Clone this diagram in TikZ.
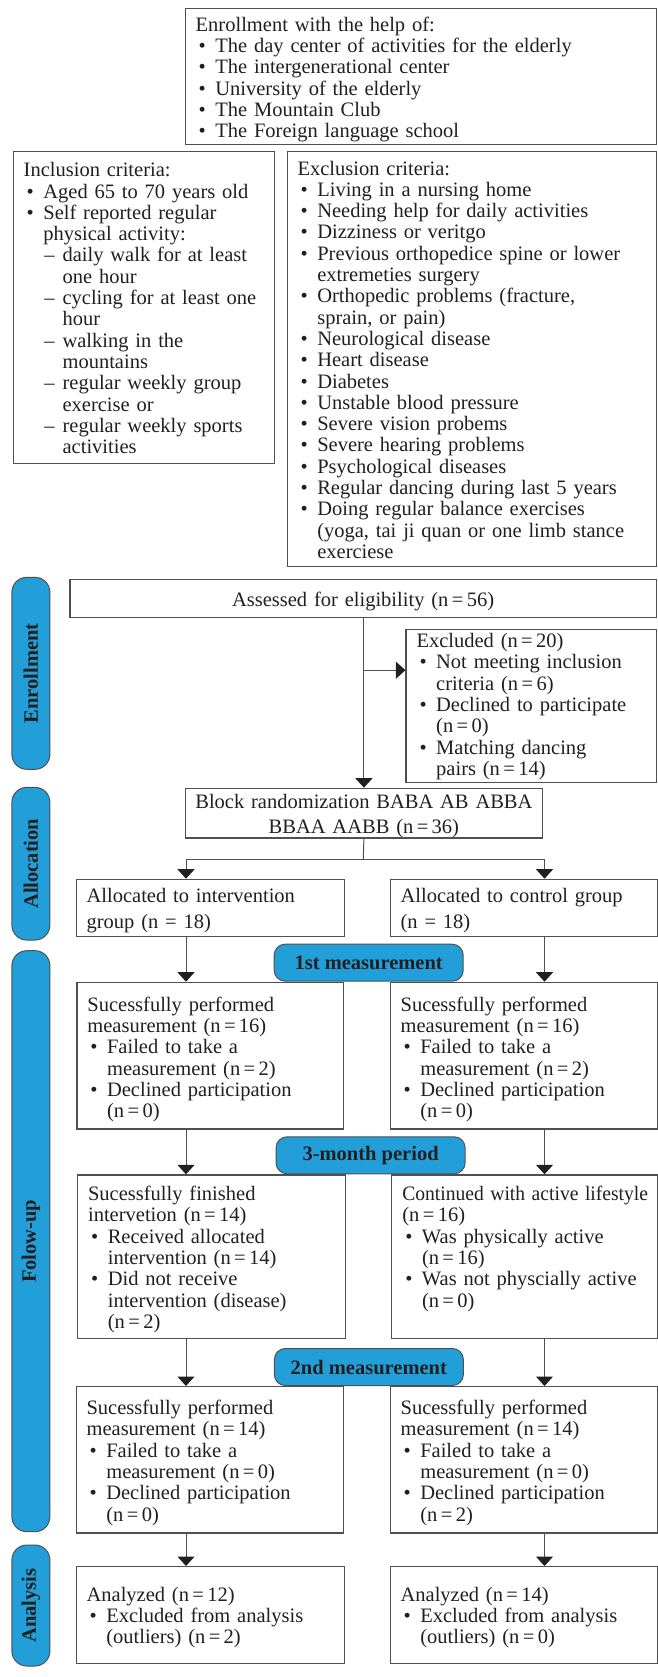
\documentclass[tikz,border=0pt]{standalone}
\usepackage{fontspec}
\setmainfont{Liberation Serif}
\usepackage{graphicx}
\usepackage{xcolor}
\usepackage{tikz}
\usetikzlibrary{arrows.meta, positioning, calc}

\definecolor{phaseblue}{RGB}{34,159,217}
\definecolor{boxline}{RGB}{80,80,80}
\definecolor{ink}{RGB}{35,31,32}

\newcommand{\bul}{\makebox[19.7pt][l]{\hspace{3pt}•}}
\newcommand{\ind}{\hspace*{19.7pt}}
\newcommand{\dsh}{\hspace*{19.7pt}\makebox[19.2pt][l]{\hspace{1pt}–}}
\newcommand{\dind}{\hspace*{38.9pt}}

\tikzset{
  box/.style={rectangle, draw=boxline, line width=1.2pt, fill=white,
              anchor=north west, inner xsep=10.5pt, inner ysep=0pt,
              align=left, text=ink,
              font=\fontsize{20.5pt}{21.3pt}\selectfont},
  boxwide/.style={box, font=\fontsize{20.5pt}{26.6pt}\selectfont},
  phase/.style={rectangle, rounded corners=15pt, draw=boxline, line width=1pt,
                fill=phaseblue, rotate=90, minimum height=38pt, inner sep=0pt,
                text=ink, font=\fontsize{20.5pt}{22pt}\selectfont\bfseries},
  stage/.style={rectangle, rounded corners=11pt, draw=boxline, line width=1pt,
                fill=phaseblue, minimum width=189pt, minimum height=37pt,
                inner sep=0pt, anchor=south, xshift=2pt, text=ink,
                font=\fontsize{20.5pt}{22pt}\selectfont\bfseries},
  arrow/.style={-{Triangle[width=17pt, length=9.5pt, color=ink]},
                line width=1pt, draw=boxline},
  link/.style={line width=1pt, draw=boxline},
}

\begin{document}
\begin{tikzpicture}[x=1pt, y=-1pt]
  \path[use as bounding box, fill=white] (0,0) rectangle (657,1677);

  \node[box, text width=450pt, text height=22.4pt, text depth=113.3pt]
    (recruit) at (184.6,8.3)
    {Enrollment with the help of:\\
     \bul The day center of activities for the elderly\\
     \bul The intergenerational center\\
     \bul University of the elderly\\
     \bul The Mountain Club\\
     \bul The Foreign language school};
  \node[box, below left=6pt and 172pt of recruit.south west, anchor=north west,
        text width=240pt, text height=25pt, text depth=286.7pt] (incl)
    {Inclusion criteria:\\
     \bul Aged 65 to 70 years old\\
     \bul Self reported regular\\
     \ind physical activity:\\
     \dsh daily walk for at least\\
     \dind one hour\\
     \dsh cycling for at least one\\
     \dind hour\\
     \dsh walking in the\\
     \dind mountains\\
     \dsh regular weekly group\\
     \dind exercise or\\
     \dsh regular weekly sports\\
     \dind activities};
  \node[box, below=6pt of recruit.south east, anchor=north east,
        text width=348.1pt, text height=23.3pt, text depth=391.7pt] (excl)
    {Exclusion criteria:\\
     \bul Living in a nursing home\\
     \bul Needing help for daily activities\\
     \bul Dizziness or veritgo\\
     \bul Previous orthopedice spine or lower\\
     \ind extremeties surgery\\
     \bul Orthopedic problems (fracture,\\
     \ind sprain, or pain)\\
     \bul Neurological disease\\
     \bul Heart disease\\
     \bul Diabetes\\
     \bul Unstable blood pressure\\
     \bul Severe vision probems\\
     \bul Severe hearing problems\\
     \bul Psychological diseases\\
     \bul Regular dancing during last 5 years\\
     \bul Doing regular balance exercises\\
     \ind (yoga, tai ji quan or one limb stance\\
     \ind exerciese};

  \node[box, below=11.7pt of excl.south east, anchor=north east, align=center,
        text width=565.2pt, text height=26.6pt, text depth=11pt] (assess)
    {Assessed for eligibility (n\,=\,56)};
  \node[box, below=10.7pt of assess.south east, anchor=north east,
        text width=229.2pt, text height=18.3pt, text depth=134.7pt] (excluded)
    {Excluded (n\,=\,20)\\
     \bul Not meeting inclusion\\
     \ind criteria (n\,=\,6)\\
     \bul Declined to participate\\
     \ind (n\,=\,0)\\
     \bul Matching dancing\\
     \ind pairs (n\,=\,14)};
  \node[box, align=center, font=\fontsize{20.5pt}{25.3pt}\selectfont,
        inner xsep=4pt, text width=349.4pt, text height=20.3pt,
        text depth=29.3pt] (block) at (184.6,787.7)
    {\mbox{Block randomization BABA AB ABBA}\\\mbox{BBAA AABB (n\,=\,36)}};

  \node[boxwide, text width=247.5pt, text height=23pt, text depth=34pt]
    (allocI) at (75.5,878.7)
    {Allocated to intervention\\group (n = 18)};
  \node[boxwide, right=44.3pt of allocI.north east, anchor=north west,
        text width=246.7pt, text height=23pt, text depth=34pt] (allocC)
    {Allocated to control group\\(n = 18)};

  \node[box, text width=245.4pt, text height=29pt, text depth=117.6pt]
    (meas1I) at (76.3,981.7)
    {Sucessfully performed\\
     measurement (n\,=\,16)\\
     \bul Failed to take a\\
     \ind measurement (n\,=\,2)\\
     \bul Declined participation\\
     \ind (n\,=\,0)};
  \node[box, right=45.6pt of meas1I.north east, anchor=north west,
        text width=246.2pt, text height=29pt, text depth=117.6pt] (meas1C)
    {Sucessfully performed\\
     measurement (n\,=\,16)\\
     \bul Failed to take a\\
     \ind measurement (n\,=\,2)\\
     \bul Declined participation\\
     \ind (n\,=\,0)};

  \node[box, text width=246.8pt, text height=25.7pt, text depth=137.7pt]
    (finI) at (77,1174.3)
    {Sucessfully finished\\
     intervetion (n\,=\,14)\\
     \bul Received allocated\\
     \ind intervention (n\,=\,14)\\
     \bul Did not receive\\
     \ind intervention (disease)\\
     \ind (n\,=\,2)};
  \node[box, right=45.2pt of finI.north east, anchor=north west,
        text width=244.5pt, text height=25.7pt, text depth=137.7pt] (contC)
    {\scalebox{0.955}[1]{Continued with active lifestyle}\\
     (n\,=\,16)\\
     \bul Was physically active\\
     \ind (n\,=\,16)\\
     \bul Was not physcially active\\
     \ind (n\,=\,0)};

  \node[box, text width=246.5pt, text height=28pt, text depth=118.3pt]
    (meas2I) at (75.5,1386)
    {Sucessfully performed\\
     measurement (n\,=\,14)\\
     \bul Failed to take a\\
     \ind measurement (n\,=\,0)\\
     \bul Declined participation\\
     \ind (n\,=\,0)};
  \node[box, right=45.3pt of meas2I.north east, anchor=north west,
        text width=246.2pt, text height=28pt, text depth=118.3pt] (meas2C)
    {Sucessfully performed\\
     measurement (n\,=\,14)\\
     \bul Failed to take a\\
     \ind measurement (n\,=\,0)\\
     \bul Declined participation\\
     \ind (n\,=\,2)};

  \node[box, text width=247.5pt, text height=34.7pt, text depth=62.1pt]
    (analI) at (75.5,1566)
    {Analyzed (n\,=\,12)\\
     \bul Excluded from analysis\\
     \ind (outliers) (n\,=\,2)};
  \node[box, right=44.3pt of analI.north east, anchor=north west,
        text width=246.7pt, text height=34.7pt, text depth=62.1pt] (analC)
    {Analyzed (n\,=\,14)\\
     \bul Excluded from analysis\\
     \ind (outliers) (n\,=\,0)};

  \node[phase, minimum width=192pt] (penrol) at (30.9,673.3) {Enrollment};
  \node[phase, minimum width=152.7pt] (palloc) at (30.9,863.7) {Allocation};
  \node[phase, minimum width=581pt] (pfollow) at (30.9,1241.2) {Folow-up};
  \node[phase, minimum width=121pt] (panal) at (30.9,1605.5) {Analysis};

  \coordinate (colL) at (186,0);
  \coordinate (colR) at (544.5,0);
  \coordinate (split) at (363.3,859);
  \coordinate (exclin) at ([yshift=35.5pt]excluded.west);

  \draw[arrow] (assess.south -| block.north) -- (block.north);
  \draw[arrow] (block.north |- exclin) -- (exclin);
  \draw[link] (block.south) -- (split);
  \draw[arrow] (split) -| (allocI.north -| colL);
  \draw[arrow] (split) -| (allocC.north -| colR);
  \draw[arrow] (allocI.south -| colL) -- (meas1I.north -| colL);
  \draw[arrow] (allocC.south -| colR) -- (meas1C.north -| colR);
  \draw[arrow] (meas1I.south -| colL) -- (finI.north -| colL);
  \draw[arrow] (meas1C.south -| colR) -- (contC.north -| colR);
  \draw[arrow] (finI.south -| colL) -- (meas2I.north -| colL);
  \draw[arrow] (contC.south -| colR) -- (meas2C.north -| colR);
  \draw[arrow] (meas2I.south -| colL) -- (analI.north -| colL);
  \draw[arrow] (meas2C.south -| colR) -- (analC.north -| colR);

  \node[stage] (stage1) at ($(meas1I.north east)!0.5!(meas1C.north west)$)
    {1st measurement};
  \node[stage] (stage2) at ($(finI.north east)!0.5!(contC.north west)$)
    {3-month period};
  \node[stage] (stage3) at ($(meas2I.north east)!0.5!(meas2C.north west)$)
    {2nd measurement};
\end{tikzpicture}
\end{document}
